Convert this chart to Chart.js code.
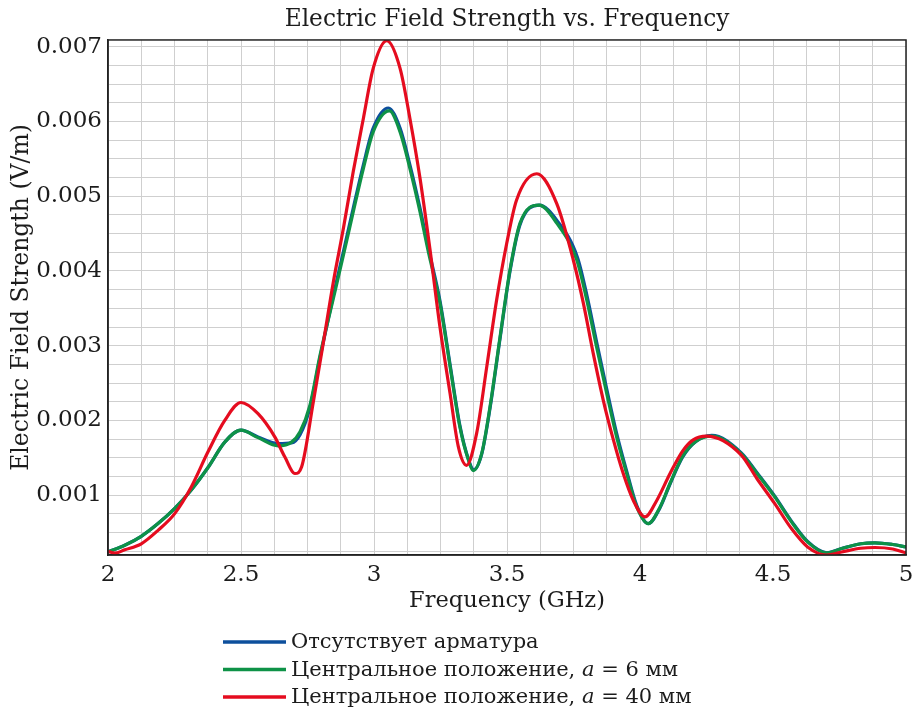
<!DOCTYPE html>
<html>
<head>
<meta charset="utf-8">
<script src="https://cdn.jsdelivr.net/npm/chart.js@4.4.1/dist/chart.umd.min.js"></script>
<style>
  html, body { margin: 0; padding: 0; background: #fff; }
</style>
</head>
<body>
<canvas id="fieldChart" width="913" height="707"></canvas>
<script>
// Données (fréquence en GHz, champ en V/m)
const seriesNames = [
  'Отсутствует арматура',
  'Центральное положение, a = 6 мм',
  'Центральное положение, a = 40 мм'
];
const seriesColors = ['#0d4f9c', '#0e9247', '#e50c1f'];

const freqBlue = [2.0, 2.063, 2.125, 2.188, 2.25, 2.313, 2.376, 2.439, 2.5, 2.564, 2.64, 2.69, 2.722, 2.759, 2.797, 2.847, 2.885, 2.922, 2.96, 2.997, 3.054, 3.098, 3.135, 3.173, 3.204, 3.248, 3.286, 3.323, 3.355, 3.375, 3.405, 3.436, 3.474, 3.511, 3.549, 3.621, 3.687, 3.765, 3.8, 3.837, 3.875, 3.912, 3.95, 3.988, 4.031, 4.075, 4.113, 4.16, 4.21, 4.27, 4.38, 4.44, 4.506, 4.57, 4.63, 4.702, 4.758, 4.83, 4.883, 4.95, 5.0];
const valBlue = [0.00024, 0.00033, 0.00045, 0.00062, 0.00082, 0.00107, 0.00137, 0.00171, 0.00187, 0.00178, 0.00169, 0.0017, 0.00181, 0.00217, 0.00284, 0.00367, 0.00426, 0.00484, 0.00542, 0.00591, 0.00618, 0.00591, 0.00542, 0.00484, 0.00431, 0.0036, 0.00275, 0.00193, 0.00148, 0.00134, 0.00155, 0.00216, 0.0031, 0.00399, 0.00462, 0.00488, 0.00468, 0.00418, 0.00368, 0.00305, 0.00242, 0.00183, 0.00132, 0.00086, 0.00062, 0.00083, 0.00115, 0.00151, 0.00172, 0.0018, 0.00157, 0.0013, 0.00099, 0.00065, 0.00038, 0.00023, 0.000286, 0.00035, 0.000362, 0.00034, 0.000308];

const freqGreen = [2.0, 2.063, 2.125, 2.188, 2.25, 2.313, 2.376, 2.439, 2.5, 2.564, 2.64, 2.69, 2.722, 2.759, 2.797, 2.847, 2.885, 2.922, 2.96, 2.997, 3.058, 3.098, 3.135, 3.173, 3.204, 3.248, 3.286, 3.323, 3.355, 3.373, 3.405, 3.436, 3.474, 3.511, 3.549, 3.621, 3.687, 3.762, 3.8, 3.837, 3.875, 3.912, 3.95, 3.988, 4.031, 4.075, 4.113, 4.16, 4.21, 4.27, 4.38, 4.44, 4.506, 4.57, 4.63, 4.702, 4.758, 4.83, 4.883, 4.95, 5.0];
const valGreen = [0.00024, 0.00033, 0.00045, 0.00062, 0.00082, 0.00107, 0.00137, 0.00171, 0.00187, 0.00177, 0.00166, 0.00171, 0.00185, 0.0022, 0.00287, 0.00363, 0.00421, 0.00479, 0.00537, 0.00586, 0.00614, 0.00586, 0.00537, 0.00479, 0.00426, 0.00357, 0.00272, 0.00191, 0.00147, 0.00133, 0.00156, 0.00218, 0.00312, 0.00401, 0.00464, 0.00488, 0.00464, 0.00415, 0.00361, 0.00298, 0.00236, 0.00178, 0.00129, 0.00084, 0.00062, 0.00084, 0.00116, 0.00152, 0.00172, 0.00179, 0.00156, 0.00129, 0.00098, 0.00064, 0.000375, 0.000228, 0.000286, 0.00035, 0.000362, 0.00034, 0.000308];

const freqRed = [2.0, 2.025, 2.063, 2.125, 2.188, 2.25, 2.313, 2.376, 2.439, 2.5, 2.564, 2.627, 2.665, 2.703, 2.728, 2.772, 2.81, 2.847, 2.885, 2.922, 2.96, 2.997, 3.048, 3.098, 3.135, 3.173, 3.21, 3.248, 3.286, 3.317, 3.348, 3.386, 3.424, 3.461, 3.499, 3.536, 3.612, 3.687, 3.749, 3.787, 3.824, 3.862, 3.9, 3.937, 3.975, 4.019, 4.063, 4.113, 4.16, 4.2, 4.25, 4.38, 4.44, 4.506, 4.57, 4.63, 4.7, 4.758, 4.83, 4.883, 4.95, 5.0];
const valRed = [0.00025, 0.000225, 0.00027, 0.00035, 0.00053, 0.00075, 0.00111, 0.00158, 0.002, 0.00224, 0.00209, 0.00178, 0.00151, 0.00129, 0.00138, 0.00225, 0.00305, 0.00385, 0.00457, 0.00533, 0.00604, 0.00671, 0.00708, 0.00671, 0.00604, 0.00524, 0.0043, 0.00325, 0.00236, 0.00165, 0.0014, 0.00183, 0.00272, 0.00361, 0.00437, 0.00495, 0.0053, 0.0049, 0.00415, 0.00357, 0.0029, 0.00227, 0.00174, 0.00129, 0.00093, 0.00071, 0.00093, 0.00129, 0.00159, 0.00174, 0.00179, 0.00154, 0.00122, 0.00089, 0.00055, 0.000308, 0.0002, 0.00024, 0.00029, 0.0003, 0.00028, 0.000228];

const xTickValues = [2, 2.5, 3, 3.5, 4, 4.5, 5];
const xTickLabels = ['2', '2.5', '3', '3.5', '4', '4.5', '5'];
const yTickValues = [0.001, 0.002, 0.003, 0.004, 0.005, 0.006, 0.007];
const yTickLabels = ['0.001', '0.002', '0.003', '0.004', '0.005', '0.006', '0.007'];

const FONT = "'DejaVu Serif', 'Liberation Serif', serif";
const TEXT = '#1c1c1c';

function toPoints(xs, ys) {
  return xs.map((x, i) => ({ x: x, y: ys[i] }));
}

function findLabel(values, labels, v) {
  const i = values.findIndex(t => Math.abs(t - v) < 1e-9);
  return i >= 0 ? labels[i] : '';
}

// cadre noir autour de la zone de tracé
const frameBox = {
  id: 'frameBox',
  afterDatasetsDraw(chart) {
    const { ctx, chartArea: a } = chart;
    ctx.save();
    ctx.strokeStyle = '#222';
    ctx.lineWidth = 1.5;
    ctx.strokeRect(a.left, a.top, a.right - a.left, a.bottom - a.top);
    ctx.restore();
  }
};

// légende empilée sous le graphique, le "a" en italique
const stackedLegend = {
  id: 'stackedLegend',
  afterDraw(chart) {
    const ctx = chart.ctx;
    ctx.save();
    ctx.textBaseline = 'middle';
    ctx.textAlign = 'left';
    chart.data.datasets.forEach((ds, i) => {
      const y = 642 + i * 27.5;
      ctx.strokeStyle = ds.borderColor;
      ctx.lineWidth = 3.5;
      ctx.beginPath();
      ctx.moveTo(223, y);
      ctx.lineTo(286, y);
      ctx.stroke();
      ctx.fillStyle = TEXT;
      let x = 291;
      ds.label.split(/(?<= )(a)(?= )/).forEach(part => {
        ctx.font = (part === 'a' ? 'italic ' : '') + '21px ' + FONT;
        ctx.fillText(part, x, y + 1);
        x += ctx.measureText(part).width;
      });
    });
    ctx.restore();
  }
};

const datasets = [
  { data: toPoints(freqBlue, valBlue), order: 2 },
  { data: toPoints(freqGreen, valGreen), order: 1 },
  { data: toPoints(freqRed, valRed), order: 0 }
].map((d, i) => Object.assign(d, {
  label: seriesNames[i],
  borderColor: seriesColors[i],
  backgroundColor: seriesColors[i],
  borderWidth: 3.2,
  pointRadius: 0,
  fill: false,
  cubicInterpolationMode: 'monotone'
}));

const fieldChart = new Chart(document.getElementById('fieldChart'), {
  type: 'line',
  data: { datasets: datasets },
  options: {
    responsive: false,
    animation: false,
    devicePixelRatio: 1,
    layout: { padding: { left: 0, right: 0, top: 0, bottom: 90 } },
    plugins: {
      legend: { display: false },
      tooltip: { enabled: false },
      title: {
        display: true,
        fullSize: false,
        text: 'Electric Field Strength vs. Frequency',
        color: TEXT,
        font: { family: FONT, size: 23.3, weight: 'normal' },
        padding: { top: 6, bottom: 6 }
      }
    },
    scales: {
      x: {
        type: 'linear',
        min: 2,
        max: 5,
        afterBuildTicks(scale) {
          const ticks = [];
          for (let k = 0; k <= 24; k++) ticks.push({ value: 2 + k * 0.125 });
          scale.ticks = ticks;
        },
        afterFit(scale) {
          scale.height = 62;
          scale.paddingRight = 7;
        },
        ticks: {
          autoSkip: false,
          maxRotation: 0,
          padding: 6,
          color: TEXT,
          font: { family: FONT, size: 23 },
          callback: (v) => findLabel(xTickValues, xTickLabels, v)
        },
        grid: { color: '#cfcfcf', lineWidth: 1, drawTicks: false },
        border: { color: '#222', width: 1.5 },
        title: {
          display: true,
          text: 'Frequency (GHz)',
          color: TEXT,
          font: { family: FONT, size: 22.5 },
          padding: { top: 4, bottom: 2 }
        }
      },
      y: {
        min: 0.0002,
        max: 0.00709,
        afterBuildTicks(scale) {
          const ticks = [];
          for (let k = 1; k <= 28; k++) ticks.push({ value: k * 0.00025 });
          scale.ticks = ticks;
        },
        afterFit(scale) { scale.width = 108; },
        ticks: {
          autoSkip: false,
          padding: 6,
          color: TEXT,
          font: { family: FONT, size: 23 },
          callback: (v) => findLabel(yTickValues, yTickLabels, v)
        },
        grid: { color: '#cfcfcf', lineWidth: 1, drawTicks: false },
        border: { color: '#222', width: 1.5 },
        title: {
          display: true,
          text: 'Electric Field Strength (V/m)',
          color: TEXT,
          font: { family: FONT, size: 23.5 },
          padding: { top: 8, bottom: 0 }
        }
      }
    }
  },
  plugins: [frameBox, stackedLegend]
});
</script>
</body>
</html>
